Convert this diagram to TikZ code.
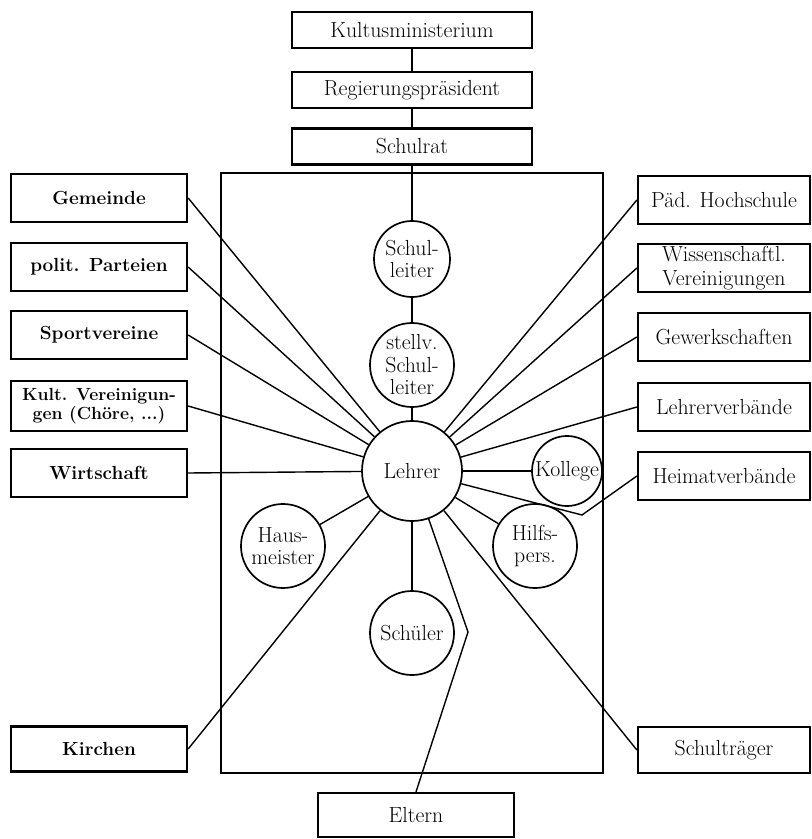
\documentclass[tikz,border=0pt]{standalone}
\usepackage{tikz}
\usetikzlibrary{positioning}

\begin{document}
\begin{tikzpicture}[
        x=0.025cm, y=-0.025cm,
        box/.style={draw, rectangle, line width=1.6pt, align=center, inner sep=1pt, minimum height=1.2cm, font=\fontsize{15.5}{16.5}\selectfont},
        topbox/.style={box, minimum width=6cm, minimum height=0.9cm},
        leftbox/.style={box, minimum width=4.4cm, font=\fontsize{13.5}{14.5}\selectfont\bfseries},
        rightbox/.style={box, minimum width=4.3cm},
        person/.style={draw, circle, line width=1.2pt, align=center, inner sep=0pt, font=\fontsize{15.5}{16}\selectfont},
        link/.style={line width=1pt}
    ]
        \useasboundingbox (0,0) rectangle (811,839);

        % Nodes
        % Hierarchy
        \node[topbox] (kultus) at (412,30) {Kultusministerium};
        \node[topbox, below=0.55cm of kultus] (regierung) {Regierungspräsident};
        \node[topbox, below=0.45cm of regierung] (schulrat) {Schulrat};

        % School
        \node[draw, line width=1.6pt, minimum width=9.55cm, minimum height=15cm] (schule) at (412,473) {};
        \node[person, minimum size=1.9cm] (schulleiter) at (412,259) {Schul-\\leiter};
        \node[person, minimum size=2.1cm] (stellv) at (412,365) {stellv.\\Schul-\\leiter};
        \node[person, minimum size=2.5cm] (lehrer) at (412,471) {Lehrer};
        \node[person, minimum size=1.75cm] (kollege) at (567,471) {Kollege};
        \node[person, minimum size=2.1cm] (hilfs) at (535,546) {Hilfs-\\pers.};
        \node[person, minimum size=2.1cm] (haus) at (283,546) {Haus-\\meister};
        \node[person, minimum size=2.1cm] (schueler) at (412,633) {Schüler};

        % Left side
        \node[leftbox] (gemeinde) at (99,198) {Gemeinde};
        \node[leftbox] (parteien) at (99,267) {polit. Parteien};
        \node[leftbox] (sport) at (99,335) {Sportvereine};
        \node[leftbox, minimum height=1.25cm, font=\fontsize{12.5}{14}\selectfont\bfseries] (kultur) at (99,406) {Kult. Vereinigun-\\gen (Chöre, ...)};
        \node[leftbox] (wirtschaft) at (99,473) {Wirtschaft};
        \node[leftbox, minimum height=1.13cm] (kirchen) at (99,749) {Kirchen};

        % Right side
        \node[rightbox] (paed) at (724,200) {Päd. Hochschule};
        \node[rightbox] (wiss) at (724,268) {Wissenschaftl.\\Vereinigungen};
        \node[rightbox] (gewerk) at (724,337) {Gewerkschaften};
        \node[rightbox] (lehrerv) at (724,407) {Lehrerverbände};
        \node[rightbox] (heimat) at (724,476) {Heimatverbände};
        \node[rightbox, minimum height=1.15cm] (traeger) at (724,750) {Schulträger};

        % Bottom
        \node[box, minimum width=4.9cm, minimum height=1.1cm] (eltern) at (416,815) {Eltern};

        \coordinate (heimatknick) at (582,515);
        \coordinate (elternknick) at (468,632);

        % Lines
        \draw[link] (kultus) -- (regierung);
        \draw[link] (regierung) -- (schulrat);
        \draw[link] (schulrat) -- (schulleiter);
        \draw[link] (schulleiter) -- (stellv);
        \draw[link] (stellv) -- (lehrer);

        \foreach \n in {gemeinde, parteien, sport, kultur, wirtschaft, kirchen}
            \draw[link] (\n.east) -- (lehrer);
        \foreach \n in {paed, wiss, gewerk, lehrerv, traeger}
            \draw[link] (\n.west) -- (lehrer);
        \foreach \n in {kollege, hilfs, haus, schueler}
            \draw[link] (lehrer) -- (\n);

        \draw[link] (lehrer) -- (heimatknick) -- (heimat.west);
        \draw[link] (lehrer) -- (elternknick) -- (eltern.north);
    \end{tikzpicture}
\end{document}
